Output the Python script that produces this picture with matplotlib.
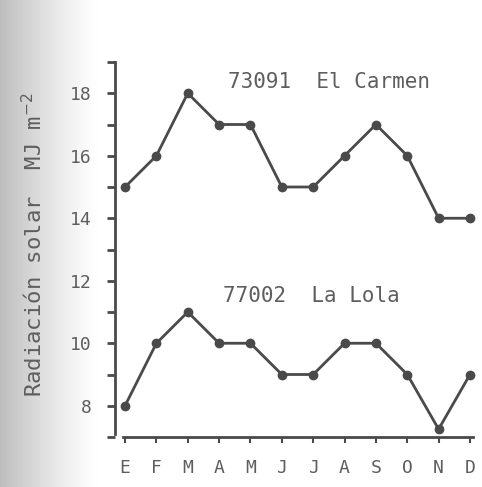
import matplotlib.pyplot as plt
import numpy as np

months = ['E', 'F', 'M', 'A', 'M', 'J', 'J', 'A', 'S', 'O', 'N', 'D']
el_carmen = [15, 16, 18, 17, 17, 15, 15, 16, 17, 16, 14, 14]
la_lola = [8, 10, 11, 10, 10, 9, 9, 10, 10, 9, 7.25, 9]
y_ticks = [8, 10, 12, 14, 16, 18]

ink = '#4a4a4a'
txt = '#5e5e5e'
mono = 'DejaVu Sans Mono'

fig = plt.figure(figsize=(4.82, 4.87), dpi=100)

# scanner shadow along the left edge
bg = fig.add_axes([0, 0, 1, 1], zorder=-5)
xs = np.linspace(0, 1, 482)
shade = 1 - 0.26 * np.clip(1 - xs / 0.21, 0, 1) ** 1.3
bg.imshow(np.tile(shade, (10, 1)), cmap='gray', vmin=0, vmax=1,
          aspect='auto', extent=[0, 1, 0, 1])
bg.axis('off')

ax = fig.add_axes([115 / 482, 50 / 487, 360 / 482, 375 / 487])
ax.patch.set_alpha(0)
x = np.arange(1, len(months) + 1)
ax.plot(x, el_carmen, '-o', color=ink, lw=2, ms=6)
ax.plot(x, la_lola, '-o', color=ink, lw=2, ms=6)

ax.set_xlim(0.68, 12.16)
ax.set_ylim(7, 19)
ax.set_xticks(x)
ax.set_xticklabels(months, fontfamily=mono, fontsize=13, color=txt)
ax.set_yticks(y_ticks)
ax.set_yticklabels([str(v) for v in y_ticks], fontfamily=mono, fontsize=13, color=txt)
ax.set_yticks(range(7, 20, 2), minor=True)
ax.tick_params(axis='y', which='both', direction='out', length=6, width=2,
               color=ink, pad=11)
ax.tick_params(axis='x', direction='out', length=4, width=1.5, color=ink, pad=12)

for side in ['top', 'right']:
    ax.spines[side].set_visible(False)
ax.spines['left'].set_color(ink)
ax.spines['left'].set_linewidth(2)
ax.spines['left'].set_bounds(7.1, 19)
ax.spines['bottom'].set_color(ink)
ax.spines['bottom'].set_linewidth(2)
ax.spines['bottom'].set_bounds(0.95, 12.1)

ax.text(7.5, 18.35, '73091  El Carmen', fontfamily=mono, fontsize=15,
        color=txt, ha='center', va='center')
ax.text(6.95, 11.5, '77002  La Lola', fontfamily=mono, fontsize=15,
        color=txt, ha='center', va='center')

fig.text(34 / 482, 1 - 245 / 487, r'Radiación solar  MJ m$^{-2}$',
         fontfamily=mono, fontsize=16, color=txt, rotation=90,
         ha='center', va='center')

fig.savefig('out.png', dpi=100)
